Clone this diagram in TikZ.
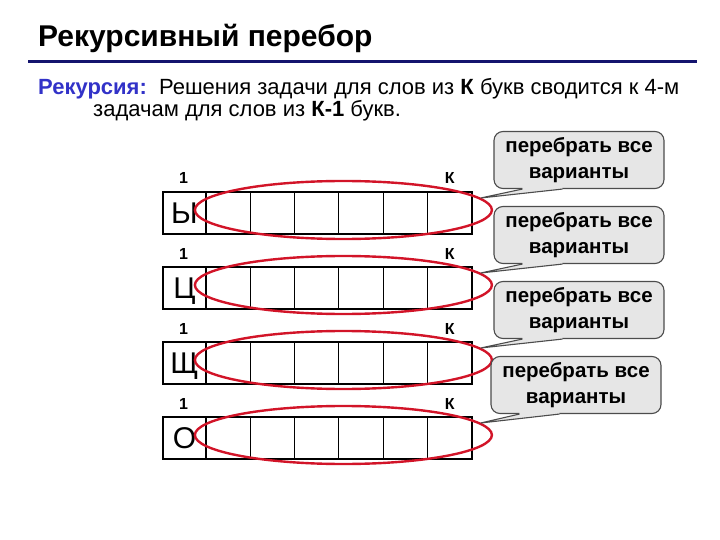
\documentclass[tikz,border=0pt]{standalone}
\usepackage{fontspec}
\setmainfont{Liberation Sans}
\usetikzlibrary{positioning, calc, shapes.geometric}
\usepackage{xcolor}
\definecolor{rulenavy}{RGB}{20,20,110}
\definecolor{keyblue}{RGB}{50,50,200}
\definecolor{ovalred}{RGB}{210,20,40}
\definecolor{notegray}{RGB}{230,230,230}

\begin{document}
\begin{tikzpicture}[x=1pt, y=-1pt,
  cell/.style={draw, line width=1.1pt, outer sep=0pt, inner sep=0pt, minimum height=42pt},
  oval/.style={draw=ovalred, line width=2.4pt, ellipse, inner sep=0pt, minimum width=297pt, minimum height=58pt},
  note/.style={draw=black!70, line width=1.1pt, fill=notegray, rounded corners=9pt, minimum width=170pt, minimum height=57pt, align=center, font=\fontsize{20.5}{26}\selectfont\bfseries},
  idx/.style={anchor=base, font=\fontsize{16}{16}\selectfont\bfseries}]
  \useasboundingbox (0,0) rectangle (720,540);

  % title and task text
  \node[anchor=base west, inner sep=0pt, font=\fontsize{30}{30}\selectfont\bfseries] (title) at (38,47) {Рекурсивный перебор};
  \draw[rulenavy, line width=3pt] (28,62) -- (697,62);
  \node[anchor=base west, inner sep=0pt, font=\fontsize{22}{22}\selectfont] (task1) at (38,95) {\textcolor{keyblue}{\textbf{Рекурсия:}}\ \ Решения задачи для слов из \textbf{К} букв сводится к 4-м};
  \node[anchor=base west, inner sep=0pt, font=\fontsize{22}{22}\selectfont] (task2) at (93,117) {задачам для слов из \textbf{К-1} букв.};

  % words: first letter fixed, the rest are tried
  \foreach \i/\ch/\nx in {1/Ы/579, 2/Ц/579, 3/Щ/579, 4/О/576} {
    \node[cell, minimum width=43pt, anchor=north west, text height=21pt, text depth=0pt, font=\fontsize{30}{30}\selectfont] (c\i-0) at (163,{192+75*(\i-1)}) {\ch};
    \foreach \k [remember=\k as \prev (initially 0)] in {1,...,6}
      \node[cell, minimum width=44.3pt, right=0pt of c\i-\prev] (c\i-\k) {};
    \draw[line width=2pt] (c\i-0.north west) rectangle (c\i-6.south east);
    \node[idx] (one\i) at ($(c\i-0.north)+(-1,-8)$) {1};
    \node[idx] (kay\i) at ($(c\i-6.north)+(0,-8)$) {К};
    \node[oval] (ov\i) at ($(c\i-4.west)+(4.5,-3)$) {};
    % callout with its pointer
    \node[note] (n\i) at (\nx,{160+75*(\i-1)}) {перебрать все\\варианты};
    \fill[notegray] ($(n\i.south west)+(29,-2)$) -- ($(n\i.south west)+(29,0.5)$) -- (ov\i.5) -- ($(n\i.south west)+(69,0.5)$) -- ($(n\i.south west)+(69,-2)$) -- cycle;
    \draw[black!70, line width=1.1pt] ($(n\i.south west)+(29,0)$) -- (ov\i.5) -- ($(n\i.south west)+(69,0)$);
  }
\end{tikzpicture}
\end{document}
